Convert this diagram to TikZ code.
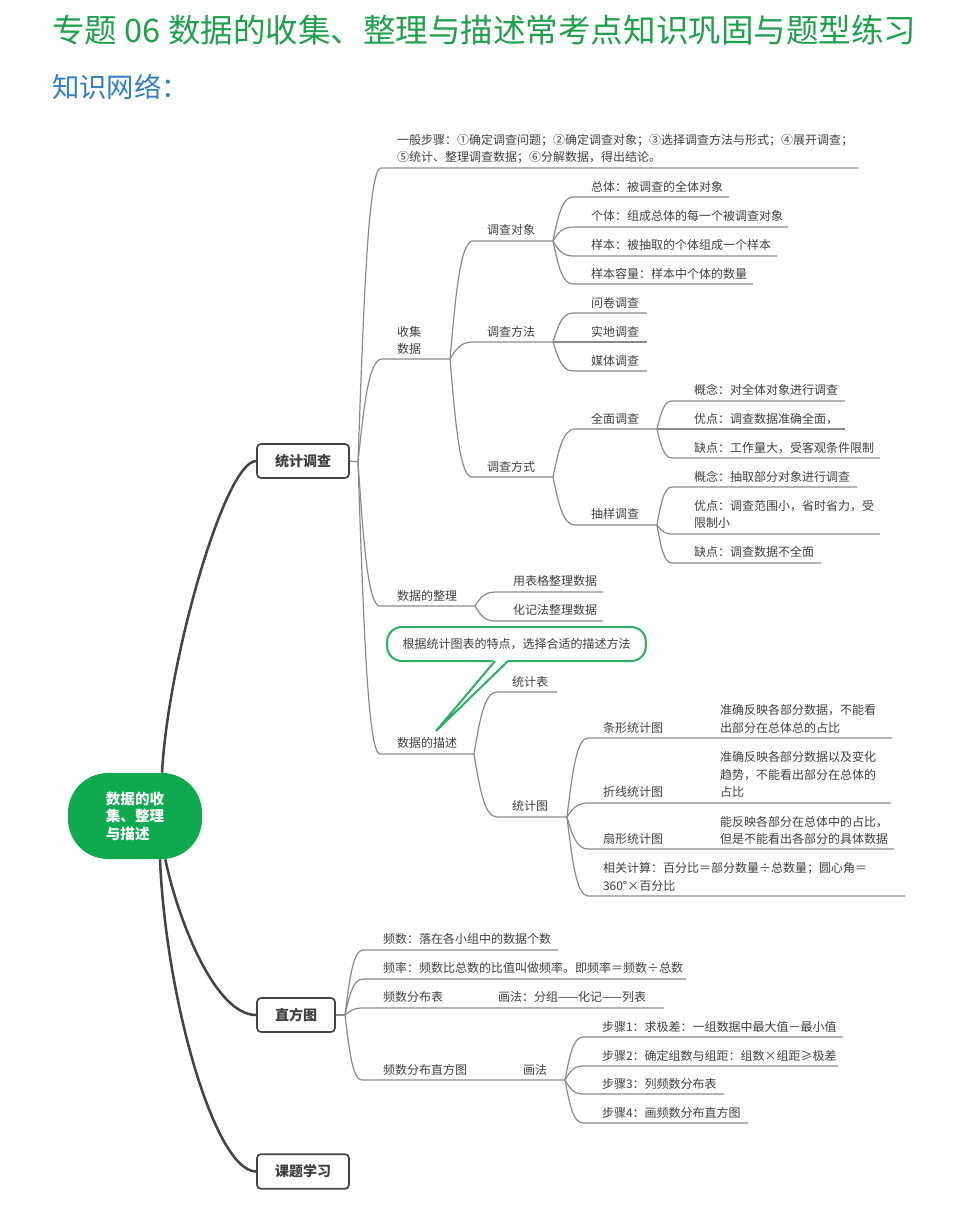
\documentclass[tikz,border=0pt]{standalone}
\usepackage{fontspec}
\setmainfont{Noto Sans CJK SC}
\usetikzlibrary{calc}
\definecolor{titlegreen}{HTML}{1FA04C}
\definecolor{headblue}{HTML}{2F7EC6}
\definecolor{rootgreen}{HTML}{0FAA50}
\definecolor{callgreen}{HTML}{2DAE67}
\definecolor{txtgray}{HTML}{404040}
\definecolor{linegray}{HTML}{8A8A8A}
\definecolor{darkline}{HTML}{444444}
\newcommand\mmlink[3]{\draw[conn] let \p1=(#1), \p2=(#2) in (\p1) .. controls ({\x1+0.25*(\x2-\x1)},{\y1+0.55*(\y2-\y1)}) and ({\x1+0.45*(\x2-\x1)},{\y2}) .. (\p2) -- (#3);}
\begin{document}
\begin{tikzpicture}[x=0.75pt,y=-0.75pt,
  txt/.style={anchor=west,inner sep=0pt,outer sep=0pt,text=txtgray,align=left,font=\fontsize{9pt}{13.1pt}\selectfont},
  conn/.style={draw=linegray,line width=0.9pt},
  lonecon/.style={draw=darkline,line width=1.9pt},
  lonebox/.style={draw=darkline,line width=1.3pt,rounded corners=3pt,fill=white,minimum height=25.5pt,inner sep=0pt,text=txtgray,font=\fontsize{10.5pt}{12pt}\selectfont\bfseries},
  rootbox/.style={fill=rootgreen,rounded corners=30pt,minimum width=100.5pt,minimum height=64.5pt,inner sep=0pt,text=white,align=left,font=\fontsize{10.9pt}{13.1pt}\selectfont\bfseries},
  callout/.style={draw=callgreen,line width=1.5pt,fill=white,rounded corners=11pt,minimum width=194pt,minimum height=25.5pt,inner sep=0pt,text=txtgray,font=\fontsize{9pt}{11pt}\selectfont}]
\useasboundingbox (0,0) rectangle (969,1208);

% titles
\node[anchor=west,inner sep=0pt,text=titlegreen,font=\fontsize{24.4pt}{28pt}\selectfont] (title) at (52,30) {专题 06 数据的收集、整理与描述常考点知识巩固与题型练习};
\node[anchor=west,inner sep=0pt,text=headblue,font=\fontsize{20.5pt}{24pt}\selectfont] (head) at (52,87) {知识网络：};

% root and level-1 boxes
\node[rootbox] (root) at (135,816) {数据的收\\集、整理\\与描述};
\node[lonebox,minimum width=69pt] (tj) at (303,461) {统计调查};
\node[lonebox,minimum width=58.5pt] (zf) at (296,1015) {直方图};
\node[lonebox,minimum width=69pt,minimum height=26pt] (kt) at (303,1171.5) {课题学习};

\draw[lonecon] (root.58) .. controls (168,660) and (225,461) .. (tj.west);
\draw[lonecon] (root.-55) .. controls (178,920) and (215,1015) .. (zf.west);
\draw[lonecon] (root.-60) .. controls (166,1000) and (215,1171.5) .. (kt.west);

% ---------- 统计调查 ----------
\coordinate (b0) at (358,462);
\draw[conn] (tj.east) -- (b0);

\node[txt] (steps) at (397,149) {一般步骤：①确定调查问题；②确定调查对象；③选择调查方法与形式；④展开调查；\\⑤统计、整理调查数据；⑥分解数据，得出结论。};
\coordinate (s-steps) at (381,168); \coordinate (e-steps) at (858,168);
\mmlink{b0}{s-steps}{e-steps}

\node[txt] (col) at (397,340.5) {收集\\数据};
\coordinate (s-col) at (382,359); \coordinate (b1) at (450,359);
\mmlink{b0}{s-col}{b1}

\node[txt] (org) at (397,596) {数据的整理};
\coordinate (s-org) at (380,606); \coordinate (b2) at (475,606);
\mmlink{b0}{s-org}{b2}

\node[txt] (dsc) at (397,743) {数据的描述};
\coordinate (s-dsc) at (380,754); \coordinate (b3) at (474,754);
\mmlink{b0}{s-dsc}{b3}

% 收集数据 children
\node[txt] (obj) at (487,230) {调查对象};
\coordinate (s-obj) at (473,241); \coordinate (b11) at (553,241);
\mmlink{b1}{s-obj}{b11}
\node[txt] (meth) at (487,332) {调查方法};
\coordinate (s-meth) at (473,342); \coordinate (b12) at (553,342);
\mmlink{b1}{s-meth}{b12}
\node[txt] (way) at (487,467) {调查方式};
\coordinate (s-way) at (472,477); \coordinate (b13) at (553,477);
\mmlink{b1}{s-way}{b13}

% 调查对象 children
\node[txt] (zt) at (591,187) {总体：被调查的全体对象};
\coordinate (s-zt) at (573,197); \coordinate (e-zt) at (729,197);
\mmlink{b11}{s-zt}{e-zt}
\node[txt] (gt) at (591,216) {个体：组成总体的每一个被调查对象};
\coordinate (s-gt) at (573,227); \coordinate (e-gt) at (788,227);
\mmlink{b11}{s-gt}{e-gt}
\node[txt] (yb) at (591,245) {样本：被抽取的个体组成一个样本};
\coordinate (s-yb) at (573,256); \coordinate (e-yb) at (777,256);
\mmlink{b11}{s-yb}{e-yb}
\node[txt] (rl) at (591,274) {样本容量：样本中个体的数量};
\coordinate (s-rl) at (573,284); \coordinate (e-rl) at (753,284);
\mmlink{b11}{s-rl}{e-rl}

% 调查方法 children
\node[txt] (wj) at (591,303) {问卷调查};
\coordinate (s-wj) at (573,313); \coordinate (e-wj) at (647,313);
\mmlink{b12}{s-wj}{e-wj}
\node[txt] (sd) at (591,332) {实地调查};
\coordinate (s-sd) at (573,342); \coordinate (e-sd) at (647,342);
\mmlink{b12}{s-sd}{e-sd}
\node[txt] (mt) at (591,361) {媒体调查};
\coordinate (s-mt) at (573,371); \coordinate (e-mt) at (647,371);
\mmlink{b12}{s-mt}{e-mt}

% 调查方式 children
\node[txt] (qm) at (591,419) {全面调查};
\coordinate (s-qm) at (575,429); \coordinate (b131) at (657,429);
\mmlink{b13}{s-qm}{b131}
\node[txt] (cy) at (591,514) {抽样调查};
\coordinate (s-cy) at (575,525); \coordinate (b132) at (657,525);
\mmlink{b13}{s-cy}{b132}

\node[txt] (qm1) at (694,390) {概念：对全体对象进行调查};
\coordinate (s-qm1) at (672,401); \coordinate (e-qm1) at (845,401);
\mmlink{b131}{s-qm1}{e-qm1}
\node[txt] (qm2) at (694,419) {优点：调查数据准确全面，};
\coordinate (s-qm2) at (672,429); \coordinate (e-qm2) at (845,429);
\mmlink{b131}{s-qm2}{e-qm2}
\node[txt] (qm3) at (694,448) {缺点：工作量大，受客观条件限制};
\coordinate (s-qm3) at (672,458); \coordinate (e-qm3) at (880,458);
\mmlink{b131}{s-qm3}{e-qm3}

\node[txt] (cy1) at (694,477) {概念：抽取部分对象进行调查};
\coordinate (s-cy1) at (672,487); \coordinate (e-cy1) at (857,487);
\mmlink{b132}{s-cy1}{e-cy1}
\node[txt] (cy2) at (694,514.5) {优点：调查范围小，省时省力，受\\限制小};
\coordinate (s-cy2) at (672,534); \coordinate (e-cy2) at (880,534);
\mmlink{b132}{s-cy2}{e-cy2}
\node[txt] (cy3) at (694,552) {缺点：调查数据不全面};
\coordinate (s-cy3) at (672,563); \coordinate (e-cy3) at (821,563);
\mmlink{b132}{s-cy3}{e-cy3}

% 数据的整理 children
\node[txt] (bg) at (513,581) {用表格整理数据};
\coordinate (s-bg) at (495,592); \coordinate (e-bg) at (603,592);
\mmlink{b2}{s-bg}{e-bg}
\node[txt] (hj) at (513,610) {化记法整理数据};
\coordinate (s-hj) at (495,621); \coordinate (e-hj) at (603,621);
\mmlink{b2}{s-hj}{e-hj}

% 数据的描述 children
\node[txt] (tjb) at (512,682) {统计表};
\coordinate (s-tjb) at (497,692); \coordinate (e-tjb) at (557,692);
\mmlink{b3}{s-tjb}{e-tjb}
\node[txt] (tjt) at (512,806) {统计图};
\coordinate (s-tjt) at (497,817); \coordinate (b32) at (567,817);
\mmlink{b3}{s-tjt}{b32}

\node[txt] (tx) at (603,728) {条形统计图};
\node[txt] (txd) at (720,719) {准确反映各部分数据，不能看\\出部分在总体总的占比};
\coordinate (s-tx) at (588,738); \coordinate (e-tx) at (892,738);
\mmlink{b32}{s-tx}{e-tx}
\node[txt] (zx) at (603,792) {折线统计图};
\node[txt] (zxd) at (720,774.5) {准确反映各部分数据以及变化\\趋势，不能看出部分在总体的\\占比};
\coordinate (s-zx) at (588,803); \coordinate (e-zx) at (891,803);
\mmlink{b32}{s-zx}{e-zx}
\node[txt] (sx) at (603,839) {扇形统计图};
\node[txt] (sxd) at (720,830.5) {能反映各部分在总体中的占比，\\但是不能看出各部分的具体数据};
\coordinate (s-sx) at (588,849); \coordinate (e-sx) at (894,849);
\mmlink{b32}{s-sx}{e-sx}
\node[txt] (xg) at (603,877) {相关计算：百分比＝部分数量÷总数量；圆心角＝\\360°×百分比};
\coordinate (s-xg) at (588,896); \coordinate (e-xg) at (905,896);
\mmlink{b32}{s-xg}{e-xg}

% callout
\node[callout] (call) at (516.5,644) {根据统计图表的特点，选择合适的描述方法};
\coordinate (tl) at (495,661); \coordinate (tr) at (508,661); \coordinate (tip) at (436,731);
\fill[white] (494.5,659) -- (508.5,659) -- (tip) -- cycle;
\draw[callgreen,line width=1.5pt,line join=miter] (tl) -- (tip) -- (tr);

% ---------- 直方图 ----------
\coordinate (b4) at (345,1015);
\draw[conn] (zf.east) -- (b4);
\node[txt] (ps) at (383,939) {频数：落在各小组中的数据个数};
\coordinate (s-ps) at (363,950); \coordinate (e-ps) at (558,950);
\mmlink{b4}{s-ps}{e-ps}
\node[txt] (pl) at (383,968) {频率：频数比总数的比值叫做频率。即频率＝频数÷总数};
\coordinate (s-pl) at (363,979); \coordinate (e-pl) at (686,979);
\mmlink{b4}{s-pl}{e-pl}
\node[txt] (fb) at (383,997) {频数分布表};
\node[txt] (fbh) at (498,997) {画法：分组——化记——列表};
\coordinate (s-fb) at (363,1008); \coordinate (e-fb) at (664,1008);
\mmlink{b4}{s-fb}{e-fb}
\node[txt] (ft) at (383,1070) {频数分布直方图};
\node[txt] (fth) at (523,1070) {画法};
\coordinate (s-ft) at (362,1080); \coordinate (b44) at (565,1080);
\mmlink{b4}{s-ft}{b44}

\node[txt] (bz1) at (602,1027) {步骤1：求极差：一组数据中最大值－最小值};
\coordinate (s-bz1) at (583,1037); \coordinate (e-bz1) at (843,1037);
\mmlink{b44}{s-bz1}{e-bz1}
\node[txt] (bz2) at (602,1056) {步骤2：确定组数与组距：组数×组距≥极差};
\coordinate (s-bz2) at (583,1066); \coordinate (e-bz2) at (838,1066);
\mmlink{b44}{s-bz2}{e-bz2}
\node[txt] (bz3) at (602,1084) {步骤3：列频数分布表};
\coordinate (s-bz3) at (583,1094); \coordinate (e-bz3) at (724,1094);
\mmlink{b44}{s-bz3}{e-bz3}
\node[txt] (bz4) at (602,1113) {步骤4：画频数分布直方图};
\coordinate (s-bz4) at (583,1123); \coordinate (e-bz4) at (748,1123);
\mmlink{b44}{s-bz4}{e-bz4}
\end{tikzpicture}
\end{document}
